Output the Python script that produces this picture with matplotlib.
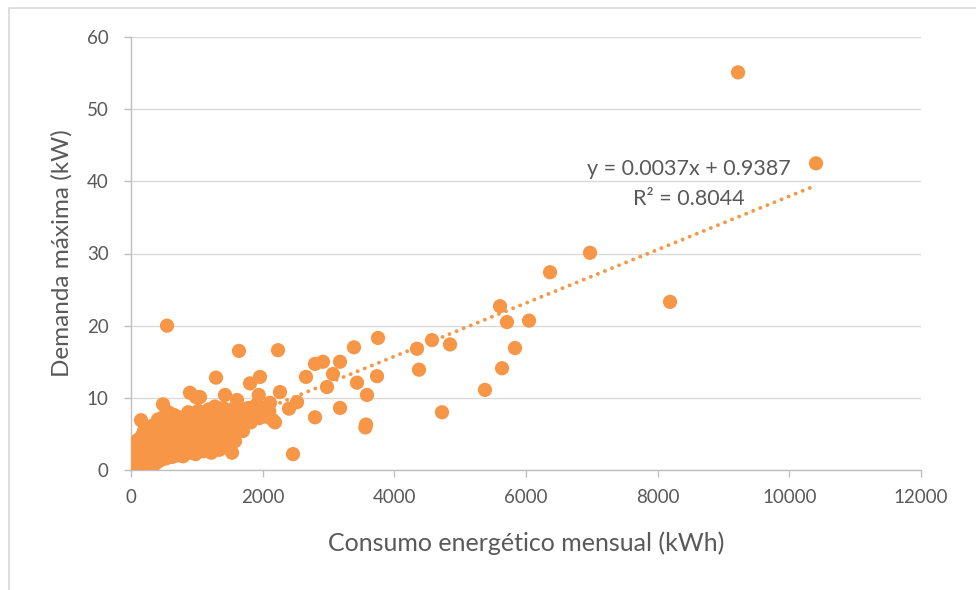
import matplotlib.pyplot as plt
from matplotlib.patches import Rectangle

# Consumo energetico mensual (kWh) vs demanda maxima (kW)
consumo_disperso = [9221, 10405, 8188, 6972, 6365, 5605, 5711, 6046, 5833, 5636,
                    5377, 4724, 4572, 4846, 4344, 4375, 3752, 3737, 3387, 3433,
                    3585, 3175, 3175, 3068, 2977, 2916, 2795, 2795, 2658, 3570,
                    3560, 2461, 2522, 2400, 2263, 2233, 2157, 2111, 2005, 1960,
                    1940, 1808, 1640, 1610, 1428, 1291, 1276, 1048, 987, 896,
                    547, 486, 152, 1534]
demanda_dispersa = [55.1, 42.5, 23.3, 30.1, 27.4, 22.7, 20.5, 20.7, 16.9, 14.1,
                    11.1, 8.0, 18.0, 17.4, 16.8, 13.9, 18.3, 13.0, 17.0, 12.1,
                    10.4, 15.0, 8.6, 13.3, 11.5, 15.0, 14.7, 7.3, 12.9, 6.3,
                    5.9, 2.2, 9.4, 8.5, 10.8, 16.6, 6.9, 9.3, 7.9, 12.9,
                    10.4, 12.0, 16.5, 9.7, 10.4, 12.8, 8.8, 10.1, 10.1, 10.7,
                    20.0, 9.1, 6.9, 2.4]

# nube densa cerca del origen
consumo_nube = [10, 20, 30, 40, 50, 60, 70, 80, 90, 100, 110, 120, 130, 140, 150,
                160, 170, 180, 190, 200, 210, 220, 230, 240, 250, 260, 270, 280, 290, 300,
                15, 45, 75, 106, 60, 35, 125, 200, 170, 240,
                310, 320, 330, 340, 350, 360, 370, 380, 390, 400, 410, 420, 430, 440,
                450, 460, 470, 490, 500, 510, 520, 530, 540, 550, 560, 570, 580, 590,
                600, 610, 620, 630, 640, 650, 660, 670, 680, 690, 700,
                720, 740, 760, 775, 790, 810, 830, 850, 870, 880, 900, 920, 940, 960,
                980, 1000, 1020, 1040, 1060, 1080, 1100, 1120, 1140, 1160, 1180, 1200,
                1220, 1240, 1260, 1280, 1300, 1320, 1340, 1360, 1380, 1400, 1420, 1440,
                1460, 1480, 1500, 1520, 1540, 1560, 1580, 1600, 1640, 1680, 1700, 1740,
                1780, 1820, 1860, 1900, 1950, 2000, 2060, 2100, 2187]
demanda_nube = [0.1, 0.3, 0.2, 0.6, 0.4, 1.0, 0.3, 0.8, 1.5, 0.5, 1.2, 2.0, 0.6, 1.0, 2.6,
                1.6, 0.8, 3.3, 2.0, 1.1, 4.0, 2.7, 1.5, 3.5, 0.9, 2.2, 4.6, 1.4, 3.0, 5.2,
                1.8, 2.4, 3.0, 4.2, 3.2, 1.2, 3.8, 5.5, 4.8, 6.0,
                1.0, 2.4, 3.8, 6.2, 1.8, 4.4, 0.9, 3.2, 5.6, 2.0, 7.0, 1.2, 4.0, 6.5,
                2.8, 5.0, 1.5, 3.6, 7.4, 2.2, 5.8, 1.6, 4.4, 6.8, 3.0, 8.0, 2.0, 5.2,
                7.0, 3.8, 1.8, 6.0, 4.6, 2.6, 7.6, 5.4, 3.4, 2.0, 6.4,
                4.2, 7.3, 2.8, 5.6, 1.9, 6.6, 3.6, 4.8, 8.0, 2.4, 6.0, 3.2, 7.4, 4.4,
                2.2, 5.6, 8.2, 3.0, 6.8, 4.6, 2.6, 7.6, 5.2, 3.6, 8.4, 6.2,
                2.4, 4.6, 7.0, 3.4, 5.6, 8.0, 2.8, 6.4, 4.2, 8.6, 3.2, 6.0,
                7.6, 4.8, 3.0, 6.8, 8.4, 5.2, 4.0, 7.2, 6.2, 8.0, 5.4, 7.0,
                8.6, 6.6, 7.8, 9.0, 7.2, 8.6, 7.4, 8.2, 6.6]

consumo = consumo_nube + consumo_disperso
demanda = demanda_nube + demanda_dispersa

# linea de tendencia (Excel)
pendiente = 0.0037
intercepto = 0.9387
r2 = 0.8044

naranja = '#F79646'
gris_texto = '#595959'
fuente = ['Lato', 'DejaVu Sans']

fig = plt.figure(figsize=(9.76, 5.90), dpi=100)
ax = fig.add_axes([131 / 976, 1 - 470 / 590, 790 / 976, 433 / 590])

ax.scatter(consumo, demanda, s=105, color=naranja, edgecolors='none', zorder=3)

x_tend = [min(consumo), max(consumo)]
y_tend = [pendiente * v + intercepto for v in x_tend]
ax.plot(x_tend, y_tend, color=naranja, linewidth=2.8, linestyle=(0, (0.01, 1.95)),
        dash_capstyle='round', zorder=4)

ax.text(8480, 41.7, f'y = {pendiente}x + {intercepto}', ha='center', va='center',
        fontsize=15.5, color=gris_texto, family=fuente)
ax.text(8480, 37.5, f'R² = {r2}', ha='center', va='center',
        fontsize=15.5, color=gris_texto, family=fuente)

ax.set_xlim(0, 12000)
ax.set_ylim(0, 60)
ax.set_xticks(range(0, 12001, 2000))
ax.set_yticks(range(0, 61, 10))
ax.grid(axis='y', color='#D9D9D9', linewidth=1.0, zorder=0)
ax.set_axisbelow(True)

for lado in ['top', 'right']:
    ax.spines[lado].set_visible(False)
for lado in ['left', 'bottom']:
    ax.spines[lado].set_color('#BFBFBF')
    ax.spines[lado].set_linewidth(1.0)

ax.tick_params(axis='both', colors='#BFBFBF', length=5, width=1.0,
               labelcolor=gris_texto, labelsize=13.5)
ax.tick_params(axis='y', pad=11)
ax.tick_params(axis='x', pad=9)
for lbl in ax.get_xticklabels() + ax.get_yticklabels():
    lbl.set_family(fuente)

ax.set_xlabel('Consumo energético mensual (kWh)', fontsize=18, color=gris_texto,
              family=fuente, labelpad=18)
ax.set_ylabel('Demanda máxima (kW)', fontsize=17.5, color=gris_texto,
              family=fuente, labelpad=10)

# marco del area del grafico
fig.patches.append(Rectangle((9 / 976, -0.2), 1.2, 1.2 - 8 / 590, transform=fig.transFigure,
                             fill=False, edgecolor='#D9D9D9', linewidth=1.2))

fig.savefig('out.png', dpi=100)
